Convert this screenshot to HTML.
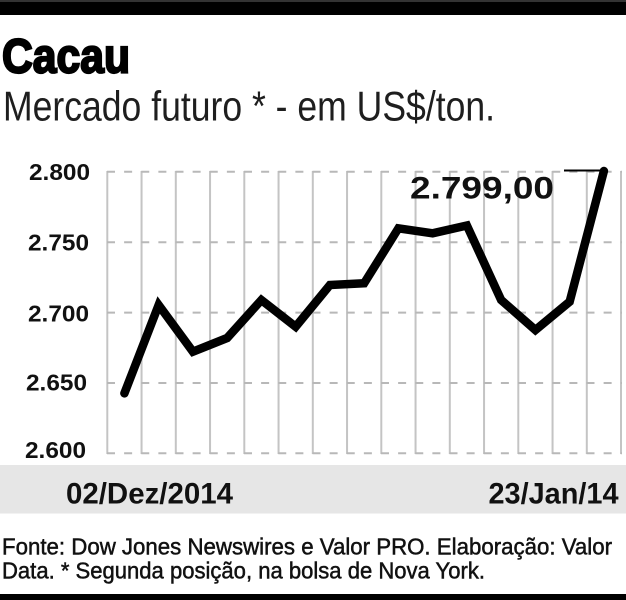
<!DOCTYPE html>
<html>
<head>
<meta charset="utf-8">
<style>
html,body{margin:0;padding:0;background:#fff;}
svg{display:block;}
</style>
</head>
<body>
<svg width="626" height="600" viewBox="0 0 626 600" xmlns="http://www.w3.org/2000/svg">
  <rect x="0" y="0" width="626" height="600" fill="#fff"/>
  <!-- top bar -->
  <rect x="0" y="0" width="626" height="15" fill="#000"/>
  <rect x="0" y="0" width="626" height="2" fill="#333"/>

  <!-- Title -->
  <text x="2" y="72.7" font-family="Liberation Sans, sans-serif" font-weight="bold" font-size="48" fill="#000" stroke="#000" stroke-width="2.2" textLength="128" lengthAdjust="spacingAndGlyphs">Cacau</text>
  <!-- Subtitle -->
  <text x="3" y="120.7" font-family="Liberation Sans, sans-serif" font-size="41.5" fill="#1e1e1e" textLength="492" lengthAdjust="spacingAndGlyphs">Mercado futuro * - em US$/ton.</text>

  <!-- vertical grid lines -->
  <g stroke="#c4c4c4" stroke-width="2">
    <line x1="107.3" y1="171" x2="107.3" y2="454"/>
    <line x1="141.55" y1="171" x2="141.55" y2="454"/>
    <line x1="175.8" y1="171" x2="175.8" y2="454"/>
    <line x1="210.05" y1="171" x2="210.05" y2="454"/>
    <line x1="244.3" y1="171" x2="244.3" y2="454"/>
    <line x1="278.55" y1="171" x2="278.55" y2="454"/>
    <line x1="312.8" y1="171" x2="312.8" y2="454"/>
    <line x1="347.05" y1="171" x2="347.05" y2="454"/>
    <line x1="381.3" y1="171" x2="381.3" y2="454"/>
    <line x1="415.55" y1="171" x2="415.55" y2="454"/>
    <line x1="449.8" y1="171" x2="449.8" y2="454"/>
    <line x1="484.05" y1="171" x2="484.05" y2="454"/>
    <line x1="518.3" y1="171" x2="518.3" y2="454"/>
    <line x1="552.55" y1="171" x2="552.55" y2="454"/>
    <line x1="586.8" y1="171" x2="586.8" y2="454"/>
    <line x1="621" y1="171" x2="621" y2="454"/>
  </g>
  <!-- horizontal dashed grid lines -->
  <g stroke="#b8b8b8" stroke-width="2" stroke-dasharray="8 9.125">
    <line x1="107" y1="171.8" x2="622" y2="171.8"/>
    <line x1="107" y1="242.2" x2="622" y2="242.2"/>
    <line x1="107" y1="312.6" x2="622" y2="312.6"/>
    <line x1="107" y1="383" x2="622" y2="383"/>
    <line x1="107" y1="453.3" x2="622" y2="453.3"/>
  </g>

  <!-- y labels -->
  <g font-family="Liberation Sans, sans-serif" font-weight="bold" font-size="23" fill="#111">
    <text x="29" y="180" textLength="61" lengthAdjust="spacingAndGlyphs">2.800</text>
    <text x="28" y="250.5" textLength="61" lengthAdjust="spacingAndGlyphs">2.750</text>
    <text x="28" y="321.5" textLength="61" lengthAdjust="spacingAndGlyphs">2.700</text>
    <text x="26" y="390.5" textLength="61" lengthAdjust="spacingAndGlyphs">2.650</text>
    <text x="25" y="458" textLength="61" lengthAdjust="spacingAndGlyphs">2.600</text>
  </g>

  <!-- data line -->
  <polyline fill="none" stroke="#000" stroke-width="8.5" stroke-linejoin="miter" stroke-miterlimit="3" stroke-linecap="round"
    points="124.4,393.3 158.65,305 192.9,351.7 227.15,338 261.4,300 295.65,326.7 329.9,285 364.15,283.3 398.4,228.3 432.65,233.3 466.9,225.5 501.15,300 535.4,330 569.65,301.7 603.9,171"/>

  <!-- annotation -->
  <line x1="564" y1="170.5" x2="600" y2="170.5" stroke="#000" stroke-width="2"/>
  <text x="410" y="198.3" font-family="Liberation Sans, sans-serif" font-weight="bold" font-size="31.5" fill="#111" textLength="144" lengthAdjust="spacingAndGlyphs">2.799,00</text>

  <!-- bottom band -->
  <rect x="0" y="465" width="626" height="48.5" fill="#e6e6e6"/>
  <g font-family="Liberation Sans, sans-serif" font-weight="bold" font-size="30" fill="#111">
    <text x="66" y="503.3" textLength="167" lengthAdjust="spacingAndGlyphs">02/Dez/2014</text>
    <text x="488.5" y="503.3" textLength="130" lengthAdjust="spacingAndGlyphs">23/Jan/14</text>
  </g>

  <!-- footnote -->
  <g font-family="Liberation Sans, sans-serif" font-size="23" fill="#111" stroke="#111" stroke-width="0.5">
    <text x="2" y="554.3" textLength="610" lengthAdjust="spacingAndGlyphs">Fonte: Dow Jones Newswires e Valor PRO. Elaboração: Valor</text>
    <text x="2" y="578.3" textLength="483" lengthAdjust="spacingAndGlyphs">Data. * Segunda posição, na bolsa de Nova York.</text>
  </g>

  <!-- bottom bar -->
  <rect x="0" y="594" width="626" height="6" fill="#000"/>
</svg>
</body>
</html>
